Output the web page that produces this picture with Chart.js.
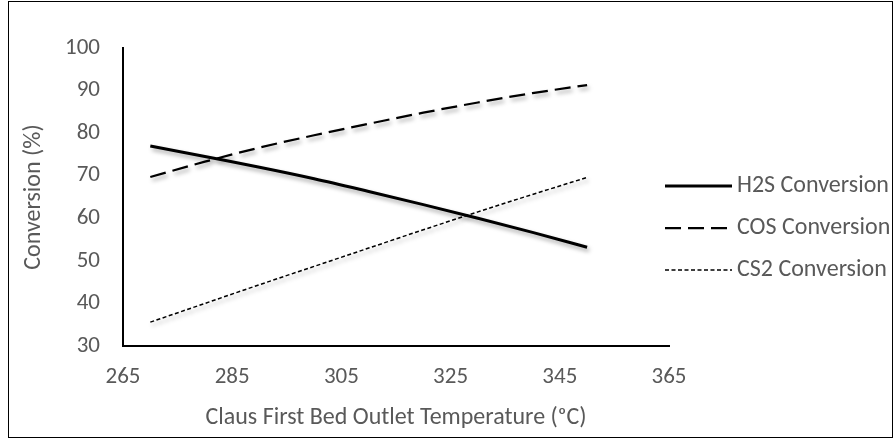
<!DOCTYPE html>
<html>
<head>
<meta charset="utf-8">
<script src="https://cdn.jsdelivr.net/npm/chart.js@4"></script>
<style>
    body { margin: 0; background: #fff; }
    #wrap { position: relative; width: 894px; height: 440px; }
    #frame { position: absolute; left: 8px; top: 1px; width: 883px; height: 435px; border: 1.5px solid #000; pointer-events: none; }
</style>
</head>
<body>
<div id="wrap">
    <canvas id="conversionChart" width="894" height="440"></canvas>
    <div id="frame"></div>
</div>
<script>
const temperatures = [270, 280, 290, 300, 310, 320, 330, 340, 350];
const h2sConversion = [77.0, 74.5, 72.0, 69.3, 66.3, 63.2, 60.0, 56.7, 53.2];
const cosConversion = [69.7, 73.3, 76.6, 79.5, 82.2, 84.8, 87.2, 89.4, 91.3];
const cs2Conversion = [35.6, 40.0, 44.4, 48.7, 53.0, 57.3, 61.5, 65.6, 69.6];
const seriesNames = ['H2S Conversion', 'COS Conversion', 'CS2 Conversion'];

const fontFamily = "Calibri, Carlito, Lato, 'Open Sans', sans-serif";
const fontSize = 24;
const tickSize = 23;
const textColor = '#595959';

function toPoints(values) {
    return temperatures.map((t, i) => ({ x: t, y: values[i] }));
}

// grey drop shadow under the lines
const lineShadow = {
    id: 'lineShadow',
    beforeDatasetsDraw(chart) {
        const ctx = chart.ctx;
        ctx.save();
        ctx.shadowColor = 'rgba(0, 0, 0, 0.35)';
        ctx.shadowBlur = 4;
        ctx.shadowOffsetX = 2;
        ctx.shadowOffsetY = 3;
    },
    afterDatasetsDraw(chart) {
        chart.ctx.restore();
    }
};

// legend on the right, drawn with each dataset's own stroke style
const lineLegend = {
    id: 'lineLegend',
    afterDraw(chart) {
        const ctx = chart.ctx;
        const rowsY = [186, 228, 270];
        ctx.save();
        chart.data.datasets.forEach((ds, i) => {
            const y = rowsY[i];
            ctx.beginPath();
            ctx.setLineDash(ds.borderDash || []);
            ctx.lineWidth = ds.borderWidth;
            ctx.strokeStyle = ds.borderColor;
            ctx.moveTo(665, y);
            ctx.lineTo(732, y);
            ctx.stroke();
            ctx.setLineDash([]);
            ctx.fillStyle = textColor;
            ctx.font = `${fontSize}px ${fontFamily}`;
            ctx.textBaseline = 'middle';
            ctx.fillText(ds.label, 737, y);
        });
        ctx.restore();
    }
};

const data = {
    datasets: [
        {
            label: seriesNames[0],
            data: toPoints(h2sConversion),
            borderColor: '#000',
            borderWidth: 3,
            cubicInterpolationMode: 'monotone'
        },
        {
            label: seriesNames[1],
            data: toPoints(cosConversion),
            borderColor: '#000',
            borderWidth: 2.25,
            borderDash: [16, 7],
            cubicInterpolationMode: 'monotone'
        },
        {
            label: seriesNames[2],
            data: toPoints(cs2Conversion),
            borderColor: '#000',
            borderWidth: 1.5,
            borderDash: [4, 2.5],
            cubicInterpolationMode: 'monotone'
        }
    ]
};

const config = {
    type: 'line',
    data: data,
    options: {
        responsive: false,
        animation: false,
        elements: { point: { radius: 0 } },
        layout: { padding: { left: 8, top: 48, right: 225, bottom: 8 } },
        plugins: {
            legend: { display: false },
            tooltip: { enabled: false }
        },
        scales: {
            x: {
                type: 'linear',
                min: 265,
                max: 365,
                ticks: {
                    stepSize: 20,
                    padding: 17,
                    color: textColor,
                    font: { family: fontFamily, size: tickSize }
                },
                grid: { display: false, drawTicks: false },
                border: { color: '#000', width: 2 },
                title: {
                    display: true,
                    text: 'Claus First Bed Outlet Temperature (ᵒC)',
                    color: textColor,
                    font: { family: fontFamily, size: fontSize },
                    padding: { top: 4, bottom: 0 }
                },
                afterFit(scale) { scale.height = 440 - 346 - 8; }
            },
            y: {
                min: 30,
                max: 100,
                ticks: {
                    stepSize: 10,
                    padding: 23,
                    color: textColor,
                    font: { family: fontFamily, size: tickSize }
                },
                grid: { display: false, drawTicks: false },
                border: { color: '#000', width: 2 },
                title: {
                    display: true,
                    text: 'Conversion (%)',
                    color: textColor,
                    font: { family: fontFamily, size: fontSize },
                    padding: { top: 12, bottom: 6 }
                },
                afterFit(scale) { scale.width = 123 - 8; }
            }
        }
    },
    plugins: [lineShadow, lineLegend]
};

new Chart(document.getElementById('conversionChart'), config);
</script>
</body>
</html>
